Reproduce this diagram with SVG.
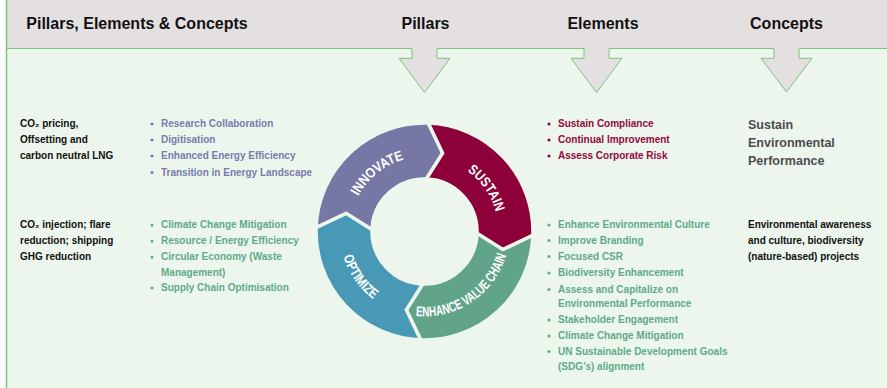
<svg xmlns="http://www.w3.org/2000/svg" width="887" height="388" viewBox="0 0 887 388">
<style>
.hdr{font-family:"Liberation Sans",Arial,sans-serif;font-weight:bold;font-size:16px;fill:#111;text-anchor:middle}
.t{font-family:"Liberation Sans",Arial,sans-serif;font-weight:bold;font-size:10px}
.blk{fill:#111}
.pur{fill:#7A7BAD}
.red{fill:#96083F}
.grn{fill:#5FAA8A}
.concept{font-family:"Liberation Sans",Arial,sans-serif;font-weight:bold;font-size:12.5px;fill:#4D4D4D}
.seg{stroke:#ECF6EC;stroke-width:3.5;stroke-linejoin:miter}
.ring{font-family:"Liberation Sans",Arial,sans-serif;font-weight:bold;font-size:14px;fill:#fff}
.bp{fill:#7A7BAD}.br{fill:#96083F}.bg{fill:#5FAA8A}
</style>
<defs>
<path id="pInn" d="M 350.88 217.19 A 75 75 0 0 1 425.81 156.51"/>
<path id="pSus" d="M 443.65 160.02 A 74 74 0 0 1 498.22 237.95"/>
<path id="pEnh" d="M 401.07 313.21 A 85 85 0 0 0 509.03 240.38"/>
<path id="pOpt" d="M 339.82 224.09 A 85 85 0 0 0 402.5 313.6"/>
</defs>
<!-- background -->
<rect x="6" y="0" width="881" height="388" fill="#ECF6EC"/>
<rect x="6" y="0" width="881" height="48.5" fill="#E4DFE1"/>
<g id="header-arrows">
<path d="M 412 48.5 L 412 58.3 L 399 58.3 L 424.5 92.5 L 450 58.3 L 437 58.3 L 437 48.5 Z" fill="#E4DFE1"/>
<path d="M 584 48.5 L 584 58.3 L 571 58.3 L 596.5 92.5 L 622 58.3 L 609 58.3 L 609 48.5 Z" fill="#E4DFE1"/>
<path d="M 774 48.5 L 774 58.3 L 761 58.3 L 786.5 92 L 812 58.3 L 799 58.3 L 799 48.5 Z" fill="#E4DFE1"/>
<path d="M 6 48.5 L 412 48.5 L 412 58.3 L 399 58.3 L 424.5 92.5 L 450 58.3 L 437 58.3 L 437 48.5 L 584 48.5 L 584 58.3 L 571 58.3 L 596.5 92.5 L 622 58.3 L 609 58.3 L 609 48.5 L 774 48.5 L 774 58.3 L 761 58.3 L 786.5 92 L 812 58.3 L 799 58.3 L 799 48.5 L 887 48.5" fill="none" stroke="#7DC47E" stroke-width="1"/>
</g>
<line x1="6.5" y1="0" x2="6.5" y2="388" stroke="#7DC47E" stroke-width="1.5"/>
<g id="headers">
<text class="hdr" x="137" y="29">Pillars, Elements &amp; Concepts</text>
<text class="hdr" x="425.5" y="29">Pillars</text>
<text class="hdr" x="603" y="29">Elements</text>
<text class="hdr" x="786.5" y="29">Concepts</text>
</g>
<g id="ring">
<g id="innovate">
<path class="seg" fill="#7777A5" d="M 316.07 227.71 A 108.5 108.5 0 0 1 428.29 123.07 L 442.61 153.06 L 426.33 179.03 A 52.5 52.5 0 0 0 372.03 229.67 L 346.06 213.39 Z"/>
<text class="ring"><textPath href="#pInn" startOffset="50%" text-anchor="middle" textLength="60" lengthAdjust="spacingAndGlyphs">INNOVATE</textPath></text>
</g>
<g id="sustain">
<path class="seg" fill="#8D0039" d="M 428.29 123.07 A 108.5 108.5 0 0 1 532.93 235.29 L 502.94 249.61 L 476.97 233.33 A 52.5 52.5 0 0 0 426.33 179.03 L 442.61 153.06 Z"/>
<text class="ring"><textPath href="#pSus" startOffset="50%" text-anchor="middle" textLength="51" lengthAdjust="spacingAndGlyphs">SUSTAIN</textPath></text>
</g>
<g id="enhance">
<path class="seg" fill="#62A48A" d="M 532.93 235.29 A 108.5 108.5 0 0 1 420.71 339.93 L 406.39 309.94 L 422.67 283.97 A 52.5 52.5 0 0 0 476.97 233.33 L 502.94 249.61 Z"/>
<text class="ring"><textPath href="#pEnh" startOffset="50%" text-anchor="middle" textLength="118" lengthAdjust="spacingAndGlyphs">ENHANCE VALUE CHAIN</textPath></text>
</g>
<g id="optimize">
<path class="seg" fill="#4899B5" d="M 420.71 339.93 A 108.5 108.5 0 0 1 316.07 227.71 L 346.06 213.39 L 372.03 229.67 A 52.5 52.5 0 0 0 422.67 283.97 L 406.39 309.94 Z"/>
<text class="ring"><textPath href="#pOpt" startOffset="50%" text-anchor="middle" textLength="53" lengthAdjust="spacingAndGlyphs">OPTIMIZE</textPath></text>
</g>
</g>
<g id="innovate-concepts">
<text class="t blk" x="20" y="127">CO₂ pricing,</text>
<text class="t blk" x="20" y="143">Offsetting and</text>
<text class="t blk" x="20" y="159">carbon neutral LNG</text>
</g>
<g id="innovate-elements">
<circle class="bp" cx="152" cy="124" r="1.6"/><text class="t pur" x="161" y="127">Research Collaboration</text>
<circle class="bp" cx="152" cy="140" r="1.6"/><text class="t pur" x="161" y="143">Digitisation</text>
<circle class="bp" cx="152" cy="156" r="1.6"/><text class="t pur" x="161" y="159">Enhanced Energy Efficiency</text>
<circle class="bp" cx="152" cy="172.5" r="1.6"/><text class="t pur" x="161" y="175.5">Transition in Energy Landscape</text>
</g>
<g id="optimize-concepts">
<text class="t blk" x="20" y="228">CO₂ injection; flare</text>
<text class="t blk" x="20" y="244">reduction; shipping</text>
<text class="t blk" x="20" y="260">GHG reduction</text>
</g>
<g id="optimize-elements">
<circle class="bg" cx="152" cy="225" r="1.6"/><text class="t grn" x="161" y="228">Climate Change Mitigation</text>
<circle class="bg" cx="152" cy="241" r="1.6"/><text class="t grn" x="161" y="244">Resource / Energy Efficiency</text>
<circle class="bg" cx="152" cy="257" r="1.6"/><text class="t grn" x="161" y="260">Circular Economy (Waste</text>
<text class="t grn" x="161" y="275.5">Management)</text>
<circle class="bg" cx="152" cy="288" r="1.6"/><text class="t grn" x="161" y="291">Supply Chain Optimisation</text>
</g>
<g id="sustain-elements">
<circle class="br" cx="549" cy="124" r="1.6"/><text class="t red" x="558" y="127">Sustain Compliance</text>
<circle class="br" cx="549" cy="140" r="1.6"/><text class="t red" x="558" y="143">Continual Improvement</text>
<circle class="br" cx="549" cy="156" r="1.6"/><text class="t red" x="558" y="159">Assess Corporate Risk</text>
</g>
<g id="sustain-concepts">
<text class="concept" x="748" y="129">Sustain</text>
<text class="concept" x="748" y="147">Environmental</text>
<text class="concept" x="748" y="165">Performance</text>
</g>
<g id="enhance-elements">
<circle class="bg" cx="549" cy="225" r="1.6"/><text class="t grn" x="558" y="228">Enhance Environmental Culture</text>
<circle class="bg" cx="549" cy="240.5" r="1.6"/><text class="t grn" x="558" y="243.5">Improve Branding</text>
<circle class="bg" cx="549" cy="256.5" r="1.6"/><text class="t grn" x="558" y="259.5">Focused CSR</text>
<circle class="bg" cx="549" cy="273" r="1.6"/><text class="t grn" x="558" y="276">Biodiversity Enhancement</text>
<circle class="bg" cx="549" cy="289.5" r="1.6"/><text class="t grn" x="558" y="292.5">Assess and Capitalize on</text>
<text class="t grn" x="558" y="306.5">Environmental Performance</text>
<circle class="bg" cx="549" cy="320" r="1.6"/><text class="t grn" x="558" y="323">Stakeholder Engagement</text>
<circle class="bg" cx="549" cy="336" r="1.6"/><text class="t grn" x="558" y="339">Climate Change Mitigation</text>
<circle class="bg" cx="549" cy="351.5" r="1.6"/><text class="t grn" x="558" y="354.5">UN Sustainable Development Goals</text>
<text class="t grn" x="558" y="369.5">(SDG’s) alignment</text>
</g>
<g id="enhance-concepts">
<text class="t blk" x="748" y="228">Environmental awareness</text>
<text class="t blk" x="748" y="244">and culture, biodiversity</text>
<text class="t blk" x="748" y="260">(nature-based) projects</text>
</g>
</svg>
